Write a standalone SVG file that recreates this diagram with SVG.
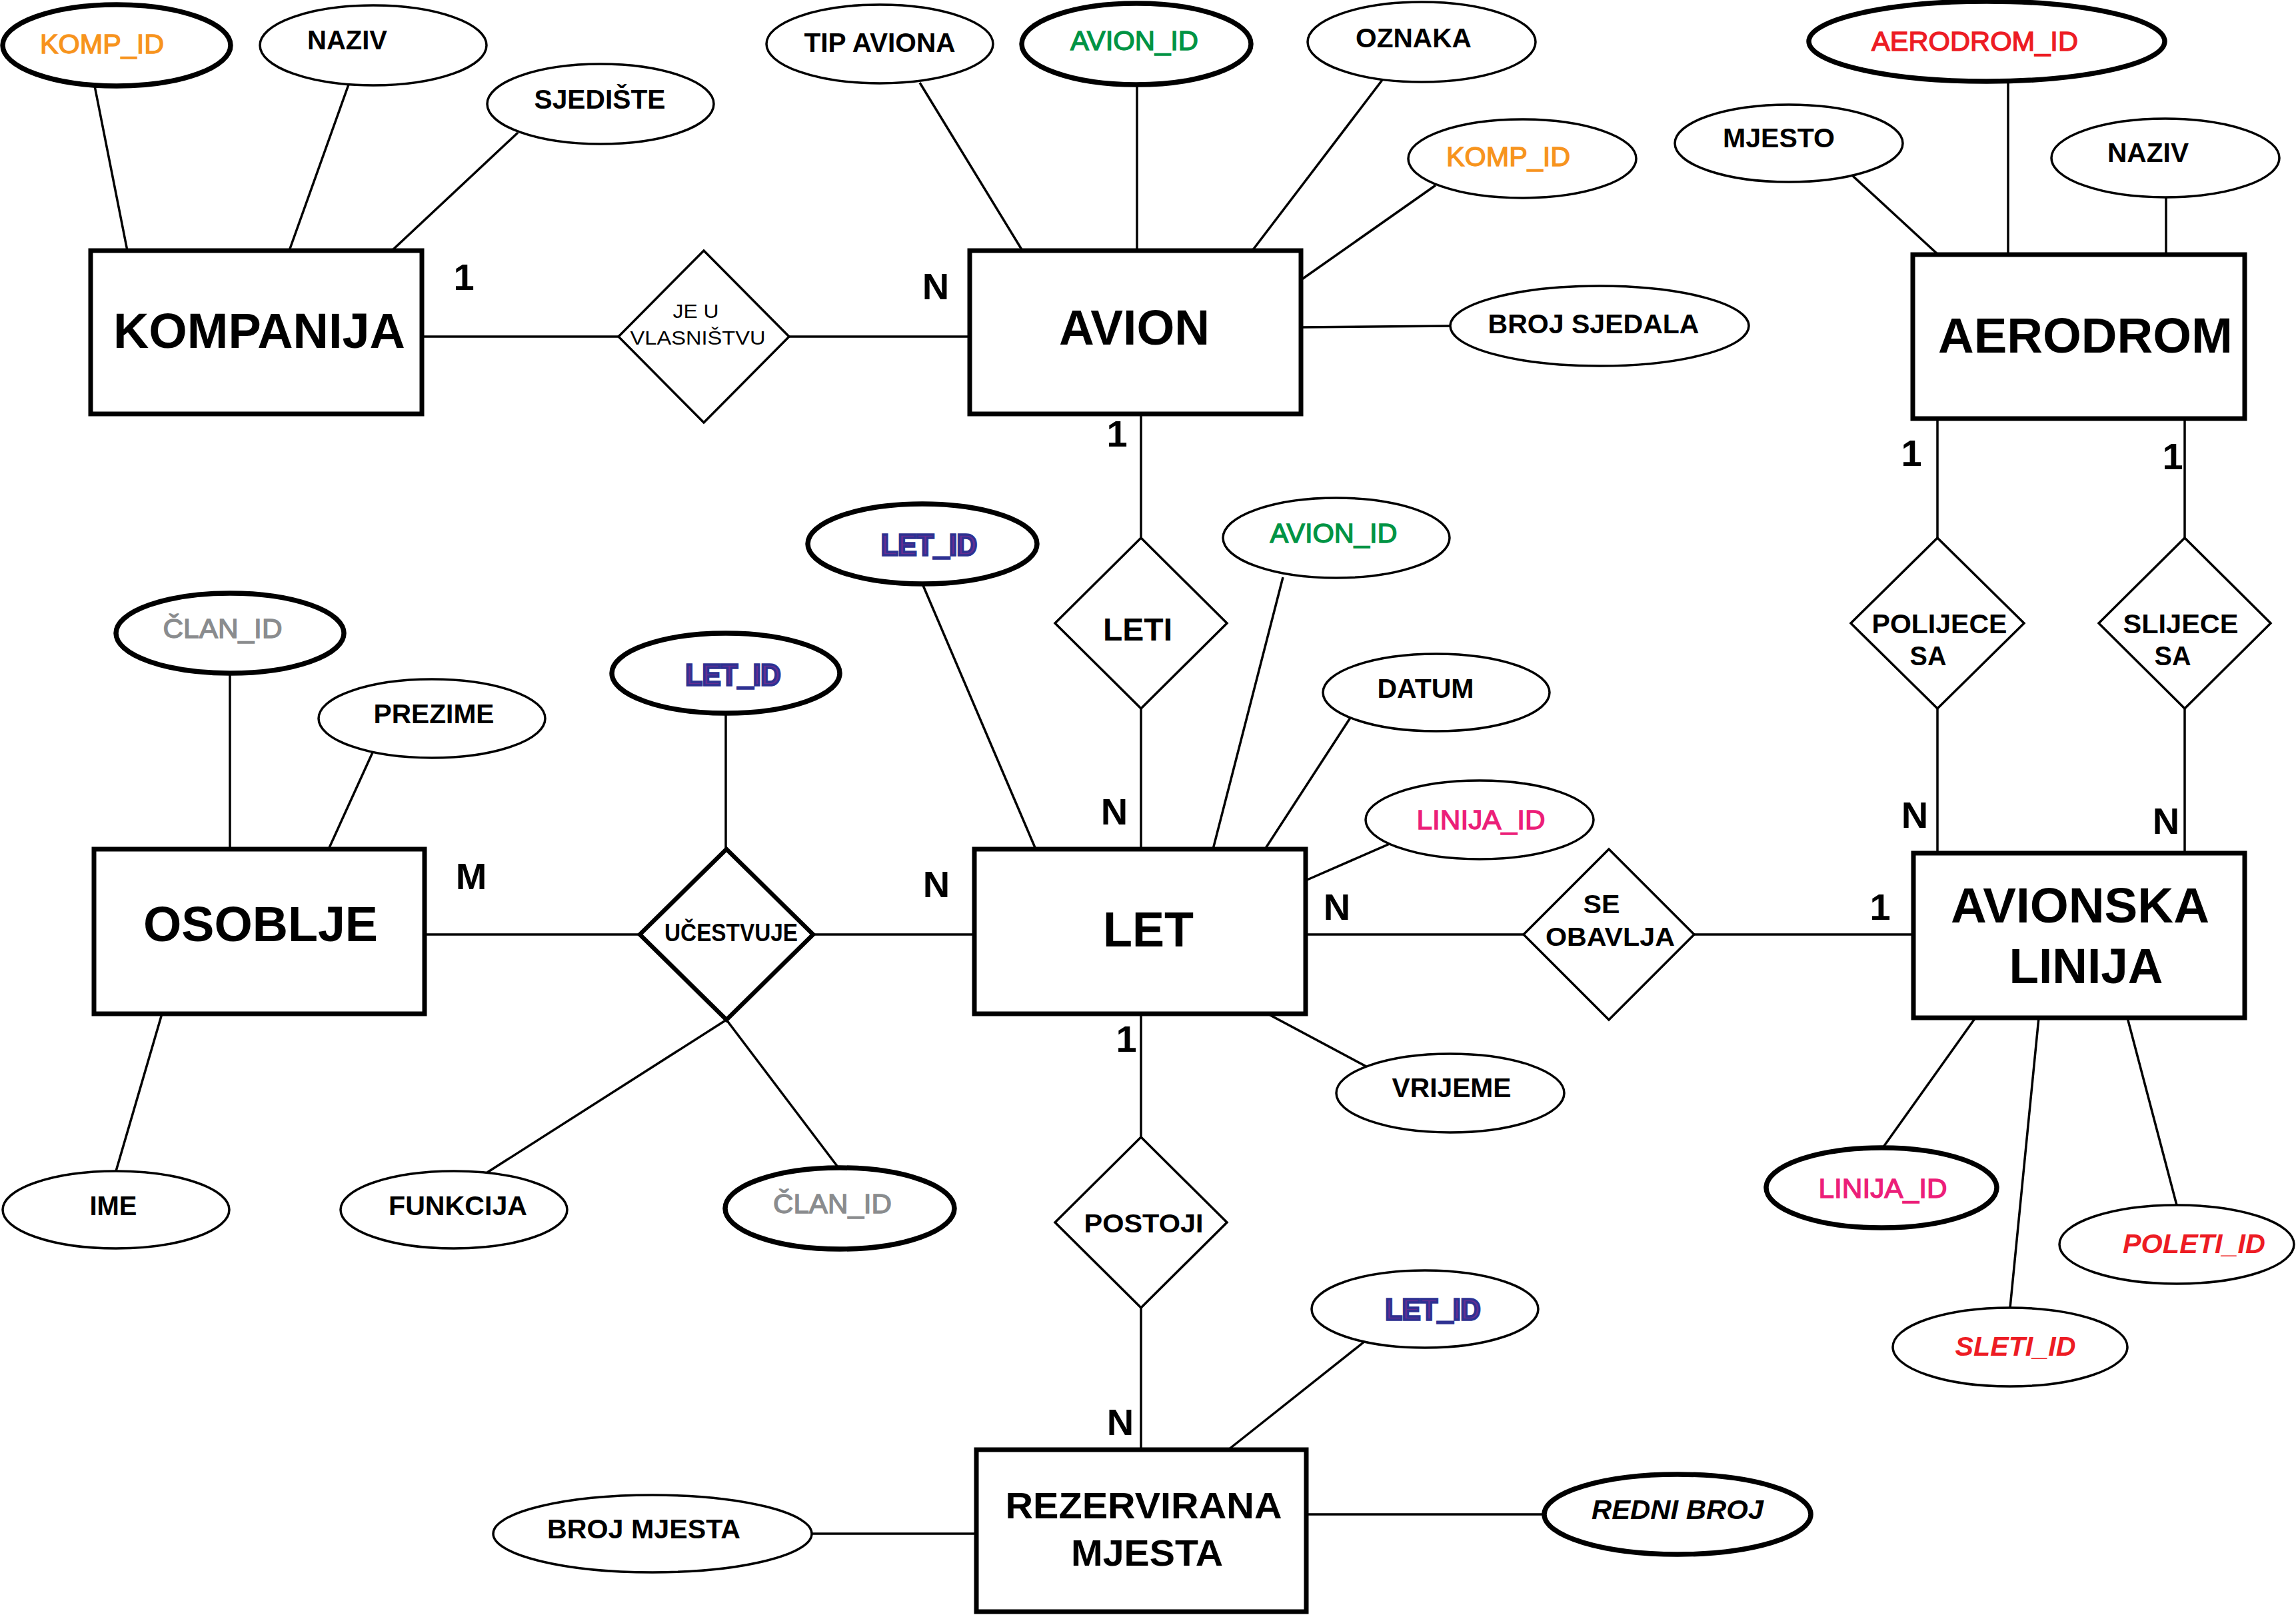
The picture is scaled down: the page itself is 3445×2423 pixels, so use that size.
<svg xmlns="http://www.w3.org/2000/svg" width="3445" height="2423" viewBox="0 0 3445 2423">
<style>
text{font-family:"Liberation Sans",Arial,Helvetica,sans-serif;text-anchor:middle}
.ent{fill:#fff;stroke:#000;stroke-width:7}
.rel{fill:#fff;stroke:#000;stroke-width:3.5}
.relk{fill:#fff;stroke:#000;stroke-width:6.5}
.att{fill:#fff;stroke:#000;stroke-width:3.5}
.key{fill:#fff;stroke:#000;stroke-width:7.5}
.conn line{stroke:#000;stroke-width:3.5}
.et{font-size:75px;font-weight:bold;fill:#000}
.rt{font-weight:bold;fill:#000}
.at{font-size:40px;font-weight:bold;fill:#000}
.idt{font-size:40px;font-weight:normal;stroke-width:1.3}
.card{font-size:56px;font-weight:bold;fill:#000}
.orange{fill:#F7941D;stroke:#F7941D}
.green{fill:#009444;stroke:#009444}
.red{fill:#ED1C24;stroke:#ED1C24}
.mag{fill:#EC1E79;stroke:#EC1E79}
.gray{fill:#8A8C8E;stroke:#8A8C8E}
.navy{font-size:44px;font-weight:bold;fill:#662D91;stroke:#2E3192;stroke-width:3.5}
.it{font-style:italic;font-weight:bold;stroke-width:0}
</style>
<g id="connectors" class="conn">
<line x1="142" y1="129" x2="191" y2="376"/>
<line x1="523" y1="127" x2="434" y2="376"/>
<line x1="777" y1="199" x2="588" y2="376"/>
<line x1="1380" y1="124" x2="1534" y2="376"/>
<line x1="1706" y1="127" x2="1706" y2="376"/>
<line x1="2074" y1="120" x2="1879" y2="376"/>
<line x1="2154" y1="278" x2="1952" y2="420"/>
<line x1="1952" y1="491" x2="2176" y2="489"/>
<line x1="2780" y1="264" x2="2908" y2="382"/>
<line x1="3013" y1="122" x2="3013" y2="382"/>
<line x1="3250" y1="296" x2="3250" y2="382"/>
<line x1="345" y1="1010" x2="345" y2="1274"/>
<line x1="559" y1="1129" x2="493" y2="1274"/>
<line x1="1089" y1="1070" x2="1089" y2="1274"/>
<line x1="1384" y1="876" x2="1554" y2="1274"/>
<line x1="1925" y1="866" x2="1820" y2="1274"/>
<line x1="2026" y1="1077" x2="1898" y2="1274"/>
<line x1="2085" y1="1266" x2="1959" y2="1321"/>
<line x1="243" y1="1521" x2="174" y2="1757"/>
<line x1="1090" y1="1530" x2="731" y2="1759"/>
<line x1="1090" y1="1530" x2="1258" y2="1752"/>
<line x1="1902" y1="1521" x2="2050" y2="1600"/>
<line x1="2047" y1="2013" x2="1843" y2="2175"/>
<line x1="1218" y1="2301" x2="1465" y2="2301"/>
<line x1="1960" y1="2272" x2="2317" y2="2272"/>
<line x1="2964" y1="1527" x2="2825" y2="1722"/>
<line x1="3059" y1="1527" x2="3016" y2="1962"/>
<line x1="3192" y1="1527" x2="3266" y2="1808"/>
<line x1="633" y1="505" x2="928" y2="505"/>
<line x1="1184" y1="505" x2="1455" y2="505"/>
<line x1="1712" y1="621" x2="1712" y2="807"/>
<line x1="1712" y1="1063" x2="1712" y2="1274"/>
<line x1="637" y1="1402" x2="960" y2="1402"/>
<line x1="1220" y1="1402" x2="1462" y2="1402"/>
<line x1="1959" y1="1402" x2="2286" y2="1402"/>
<line x1="2542" y1="1402" x2="2871" y2="1402"/>
<line x1="1712" y1="1521" x2="1712" y2="1706"/>
<line x1="1712" y1="1962" x2="1712" y2="2175"/>
<line x1="2907" y1="628" x2="2907" y2="807"/>
<line x1="2907" y1="1063" x2="2907" y2="1280"/>
<line x1="3278" y1="628" x2="3278" y2="807"/>
<line x1="3278" y1="1063" x2="3278" y2="1280"/>
</g>
<g id="cardinalities">
<text class="card" x="696" y="435">1</text>
<text class="card" x="1404" y="449">N</text>
<text class="card" x="1676" y="670">1</text>
<text class="card" x="1672" y="1237">N</text>
<text class="card" x="707" y="1334">M</text>
<text class="card" x="1405" y="1346">N</text>
<text class="card" x="2006" y="1380">N</text>
<text class="card" x="2821" y="1380">1</text>
<text class="card" x="1690" y="1578">1</text>
<text class="card" x="1681" y="2153">N</text>
<text class="card" x="2868" y="699">1</text>
<text class="card" x="3260" y="704">1</text>
<text class="card" x="2873" y="1242">N</text>
<text class="card" x="3250" y="1251">N</text>
</g>
<g id="kompanija"><rect class="ent" x="136" y="376" width="497" height="245"/><text class="et" x="389" y="522" textLength="438" lengthAdjust="spacingAndGlyphs">KOMPANIJA</text></g>
<g id="avion"><rect class="ent" x="1455" y="376" width="497" height="245"/><text class="et" x="1702" y="517" textLength="226" lengthAdjust="spacingAndGlyphs">AVION</text></g>
<g id="aerodrom"><rect class="ent" x="2870" y="382" width="498" height="246"/><text class="et" x="3129" y="529" textLength="442" lengthAdjust="spacingAndGlyphs">AERODROM</text></g>
<g id="osoblje"><rect class="ent" x="141" y="1274" width="496" height="247"/><text class="et" x="391" y="1412" textLength="352" lengthAdjust="spacingAndGlyphs">OSOBLJE</text></g>
<g id="let"><rect class="ent" x="1462" y="1274" width="497" height="247"/><text class="et" x="1723" y="1420" textLength="136" lengthAdjust="spacingAndGlyphs">LET</text></g>
<g id="avionska-linija"><rect class="ent" x="2871" y="1280" width="497" height="247"/><text class="et" x="3121" y="1384" textLength="388" lengthAdjust="spacingAndGlyphs">AVIONSKA</text><text class="et" x="3130" y="1475" textLength="231" lengthAdjust="spacingAndGlyphs">LINIJA</text></g>
<g id="rezervirana-mjesta"><rect class="ent" x="1465" y="2175" width="495" height="243"/><text class="et" style="font-size:55px" x="1716" y="2278" textLength="415" lengthAdjust="spacingAndGlyphs">REZERVIRANA</text><text class="et" style="font-size:55px" x="1721" y="2349" textLength="228" lengthAdjust="spacingAndGlyphs">MJESTA</text></g>
<g id="je-u-vlasnistvu"><polygon class="rel" points="928,505 1056,376 1184,505 1056,634"/><text style="font-size:30px;fill:#000" x="1044" y="477" textLength="69" lengthAdjust="spacingAndGlyphs">JE U</text><text style="font-size:30px;fill:#000" x="1047" y="517" textLength="203" lengthAdjust="spacingAndGlyphs">VLASNIŠTVU</text></g>
<g id="leti"><polygon class="rel" points="1583,935 1712,807 1841,935 1712,1063"/><text class="rt" style="font-size:48px" x="1707" y="961" textLength="104" lengthAdjust="spacingAndGlyphs">LETI</text></g>
<g id="ucestvuje"><polygon class="relk" points="960,1402 1090,1274 1220,1402 1090,1530"/><text class="rt" style="font-size:36px" x="1097" y="1412" textLength="200" lengthAdjust="spacingAndGlyphs">UČESTVUJE</text></g>
<g id="se-obavlja"><polygon class="rel" points="2286,1402 2414,1274 2542,1402 2414,1530"/><text class="rt" style="font-size:38px" x="2403" y="1370" textLength="55" lengthAdjust="spacingAndGlyphs">SE</text><text class="rt" style="font-size:38px" x="2416" y="1419" textLength="194" lengthAdjust="spacingAndGlyphs">OBAVLJA</text></g>
<g id="postoji"><polygon class="rel" points="1583,1834 1712,1706 1841,1834 1712,1962"/><text class="rt" style="font-size:39px" x="1716" y="1849" textLength="179" lengthAdjust="spacingAndGlyphs">POSTOJI</text></g>
<g id="polijece-sa"><polygon class="rel" points="2777,935 2907,807 3037,935 2907,1063"/><text class="rt" style="font-size:40px" x="2910" y="950" textLength="203" lengthAdjust="spacingAndGlyphs">POLIJECE</text><text class="rt" style="font-size:40px" x="2893" y="998" textLength="55" lengthAdjust="spacingAndGlyphs">SA</text></g>
<g id="slijece-sa"><polygon class="rel" points="3149,935 3278,807 3407,935 3278,1063"/><text class="rt" style="font-size:40px" x="3272" y="950" textLength="173" lengthAdjust="spacingAndGlyphs">SLIJECE</text><text class="rt" style="font-size:40px" x="3260" y="998" textLength="55" lengthAdjust="spacingAndGlyphs">SA</text></g>
<g id="attr-komp-id"><ellipse class="key" cx="175" cy="68" rx="171" ry="61"/><text class="idt orange" x="153" y="80" textLength="186" lengthAdjust="spacingAndGlyphs">KOMP_ID</text></g>
<g id="attr-komp-naziv"><ellipse class="att" cx="560" cy="68" rx="170" ry="60"/><text class="at" x="521" y="74" textLength="120" lengthAdjust="spacingAndGlyphs">NAZIV</text></g>
<g id="attr-sjediste"><ellipse class="att" cx="901" cy="156" rx="170" ry="60"/><text class="at" x="900" y="163" textLength="197" lengthAdjust="spacingAndGlyphs">SJEDIŠTE</text></g>
<g id="attr-tip-aviona"><ellipse class="att" cx="1320" cy="66" rx="170" ry="59"/><text class="at" x="1320" y="78" textLength="227" lengthAdjust="spacingAndGlyphs">TIP AVIONA</text></g>
<g id="attr-avion-id"><ellipse class="key" cx="1705" cy="66" rx="172" ry="61"/><text class="idt green" x="1702" y="75" textLength="192" lengthAdjust="spacingAndGlyphs">AVION_ID</text></g>
<g id="attr-oznaka"><ellipse class="att" cx="2133" cy="63" rx="171" ry="60"/><text class="at" x="2121" y="71" textLength="174" lengthAdjust="spacingAndGlyphs">OZNAKA</text></g>
<g id="attr-avion-komp-id"><ellipse class="att" cx="2284" cy="238" rx="171" ry="59"/><text class="idt orange" x="2263" y="249" textLength="186" lengthAdjust="spacingAndGlyphs">KOMP_ID</text></g>
<g id="attr-broj-sjedala"><ellipse class="att" cx="2400" cy="489" rx="224" ry="60"/><text class="at" x="2391" y="500" textLength="317" lengthAdjust="spacingAndGlyphs">BROJ SJEDALA</text></g>
<g id="attr-aerodrom-id"><ellipse class="key" cx="2981" cy="62" rx="267" ry="60"/><text class="idt red" x="2963" y="76" textLength="310" lengthAdjust="spacingAndGlyphs">AERODROM_ID</text></g>
<g id="attr-mjesto"><ellipse class="att" cx="2684" cy="215" rx="171" ry="58"/><text class="at" x="2669" y="221" textLength="168" lengthAdjust="spacingAndGlyphs">MJESTO</text></g>
<g id="attr-aero-naziv"><ellipse class="att" cx="3249" cy="237" rx="171" ry="59"/><text class="at" x="3223" y="243" textLength="122" lengthAdjust="spacingAndGlyphs">NAZIV</text></g>
<g id="attr-clan-id"><ellipse class="key" cx="345" cy="950" rx="171" ry="60"/><text class="idt gray" x="334" y="957" textLength="179" lengthAdjust="spacingAndGlyphs">ČLAN_ID</text></g>
<g id="attr-prezime"><ellipse class="att" cx="648" cy="1078" rx="170" ry="59"/><text class="at" x="651" y="1085" textLength="181" lengthAdjust="spacingAndGlyphs">PREZIME</text></g>
<g id="attr-uc-let-id"><ellipse class="key" cx="1089" cy="1010" rx="171" ry="60"/><text class="navy" x="1100" y="1028" textLength="143" lengthAdjust="spacingAndGlyphs">LET_ID</text></g>
<g id="attr-let-id"><ellipse class="key" cx="1384" cy="816" rx="172" ry="60"/><text class="navy" x="1394" y="833" textLength="144" lengthAdjust="spacingAndGlyphs">LET_ID</text></g>
<g id="attr-let-avion-id"><ellipse class="att" cx="2005" cy="807" rx="170" ry="60"/><text class="idt green" x="2001" y="814" textLength="191" lengthAdjust="spacingAndGlyphs">AVION_ID</text></g>
<g id="attr-datum"><ellipse class="att" cx="2155" cy="1039" rx="170" ry="58"/><text class="at" x="2139" y="1047" textLength="145" lengthAdjust="spacingAndGlyphs">DATUM</text></g>
<g id="attr-let-linija-id"><ellipse class="att" cx="2220" cy="1230" rx="171" ry="59"/><text class="idt mag" x="2222" y="1244" textLength="193" lengthAdjust="spacingAndGlyphs">LINIJA_ID</text></g>
<g id="attr-ime"><ellipse class="att" cx="174" cy="1815" rx="170" ry="58"/><text class="at" x="170" y="1823" textLength="71" lengthAdjust="spacingAndGlyphs">IME</text></g>
<g id="attr-funkcija"><ellipse class="att" cx="681" cy="1815" rx="170" ry="58"/><text class="at" x="687" y="1823" textLength="208" lengthAdjust="spacingAndGlyphs">FUNKCIJA</text></g>
<g id="attr-uc-clan-id"><ellipse class="key" cx="1260" cy="1813" rx="172" ry="61"/><text class="idt gray" x="1249" y="1820" textLength="178" lengthAdjust="spacingAndGlyphs">ČLAN_ID</text></g>
<g id="attr-vrijeme"><ellipse class="att" cx="2176" cy="1640" rx="171" ry="59"/><text class="at" x="2178" y="1646" textLength="179" lengthAdjust="spacingAndGlyphs">VRIJEME</text></g>
<g id="attr-rez-let-id"><ellipse class="att" cx="2138" cy="1964" rx="170" ry="58"/><text class="navy" x="2150" y="1980" textLength="143" lengthAdjust="spacingAndGlyphs">LET_ID</text></g>
<g id="attr-broj-mjesta"><ellipse class="att" cx="979" cy="2301" rx="239" ry="58"/><text class="at" x="966" y="2308" textLength="290" lengthAdjust="spacingAndGlyphs">BROJ MJESTA</text></g>
<g id="attr-redni-broj"><ellipse class="key" cx="2517" cy="2272" rx="200" ry="60"/><text class="at it" x="2517" y="2279" textLength="258" lengthAdjust="spacingAndGlyphs">REDNI BROJ</text></g>
<g id="attr-linija-id"><ellipse class="key" cx="2823" cy="1782" rx="173" ry="60"/><text class="idt mag" x="2825" y="1797" textLength="193" lengthAdjust="spacingAndGlyphs">LINIJA_ID</text></g>
<g id="attr-sleti-id"><ellipse class="att" cx="3016" cy="2021" rx="176" ry="59"/><text class="idt red it" x="3024" y="2034" textLength="181" lengthAdjust="spacingAndGlyphs">SLETI_ID</text></g>
<g id="attr-poleti-id"><ellipse class="att" cx="3266" cy="1867" rx="176" ry="59"/><text class="idt red it" x="3292" y="1880" textLength="214" lengthAdjust="spacingAndGlyphs">POLETI_ID</text></g>
</svg>
